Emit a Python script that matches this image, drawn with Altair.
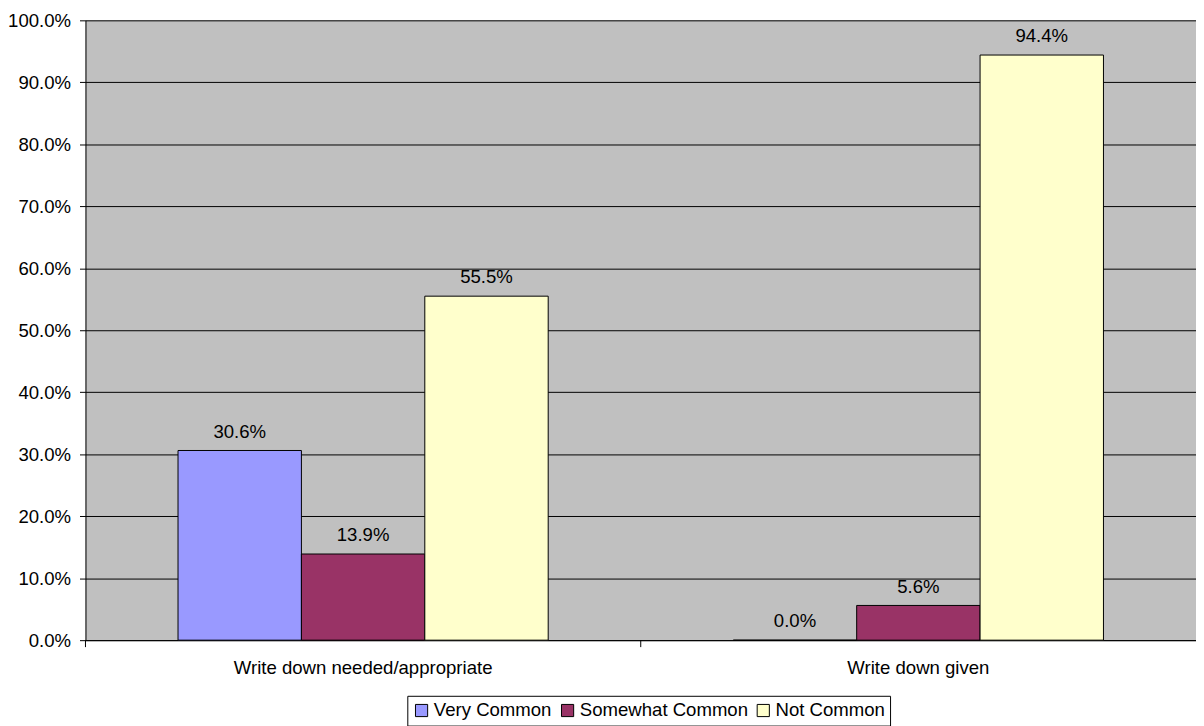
import altair as alt
import pandas as pd

categories = ["Write down needed/appropriate", "Write down given"]
series = ["Very Common", "Somewhat Common", "Not Common"]
very_common = [0.306, 0.0]
somewhat_common = [0.139, 0.056]
not_common = [0.555, 0.944]
colors = ["#9999FF", "#993366", "#FFFFCC"]

rows = []
for i, c in enumerate(categories):
    for s, vals in zip(series, [very_common, somewhat_common, not_common]):
        rows.append({"cat": c, "series": s, "value": vals[i]})
df = pd.DataFrame(rows)
ticks_df = pd.DataFrame({"cat": categories})

FONT = "Liberation Sans"
FS = 18.7
W, H = 1118, 624

x_enc = alt.X("cat:N", sort=categories, title=None,
              scale=alt.Scale(paddingInner=0, paddingOuter=0),
              axis=alt.Axis(labelAngle=0, ticks=False, labelPadding=19, labelLimit=0,
                            labelFontSize=FS, labelFont=FONT, labelColor="black",
                            domainColor="black", domainWidth=1, grid=False))
xoff = alt.XOffset("series:N", sort=series,
                   scale=alt.Scale(paddingInner=0, paddingOuter=0.75))
y_enc = alt.Y("value:Q", title=None,
              scale=alt.Scale(domain=[0, 1], nice=False),
              axis=alt.Axis(format=".1%", values=[i / 10 for i in range(11)],
                            tickSize=6, tickColor="black", labelPadding=9,
                            labelFontSize=FS, labelFont=FONT, labelColor="black",
                            domainColor="black", domainWidth=1,
                            grid=True, gridColor="black", gridWidth=1))

bars = alt.Chart(df).mark_bar(stroke="black", strokeWidth=1).encode(
    x=x_enc, xOffset=xoff, y=y_enc,
    color=alt.Color("series:N", sort=series,
                    scale=alt.Scale(domain=series, range=colors),
                    legend=alt.Legend(title=None, orient="none", legendX=324, legendY=680,
                                      direction="horizontal", columns=3,
                                      padding=5, strokeColor="black", fillColor="white",
                                      symbolType="square", symbolSize=150,
                                      symbolStrokeColor="black", symbolStrokeWidth=1,
                                      labelFontSize=FS, labelFont=FONT, labelColor="black",
                                      labelLimit=0, labelOffset=3, columnPadding=6)),
)

labels = alt.Chart(df).mark_text(baseline="alphabetic", dy=-13, fontSize=FS,
                                 font=FONT, color="black").encode(
    x=alt.X("cat:N", sort=categories), xOffset=alt.XOffset("series:N", sort=series),
    y="value:Q",
    text=alt.Text("value:Q", format=".1%"),
)

tick_rules = alt.Chart(ticks_df).mark_rule(color="black", strokeWidth=1).encode(
    x=alt.X("cat:N", sort=categories, bandPosition=0),
    y=alt.value(H), y2=alt.value(H + 7),
)

chart = alt.layer(bars, labels, tick_rules).properties(
    width=W, height=H,
    autosize=alt.AutoSizeParams(type="none"),
    padding={"left": 78, "top": 10, "right": 0, "bottom": 84},
).configure(background="white").configure_view(fill="#C0C0C0", strokeWidth=0)

chart.save("out.html", embed_options={"renderer": "svg", "actions": False})
